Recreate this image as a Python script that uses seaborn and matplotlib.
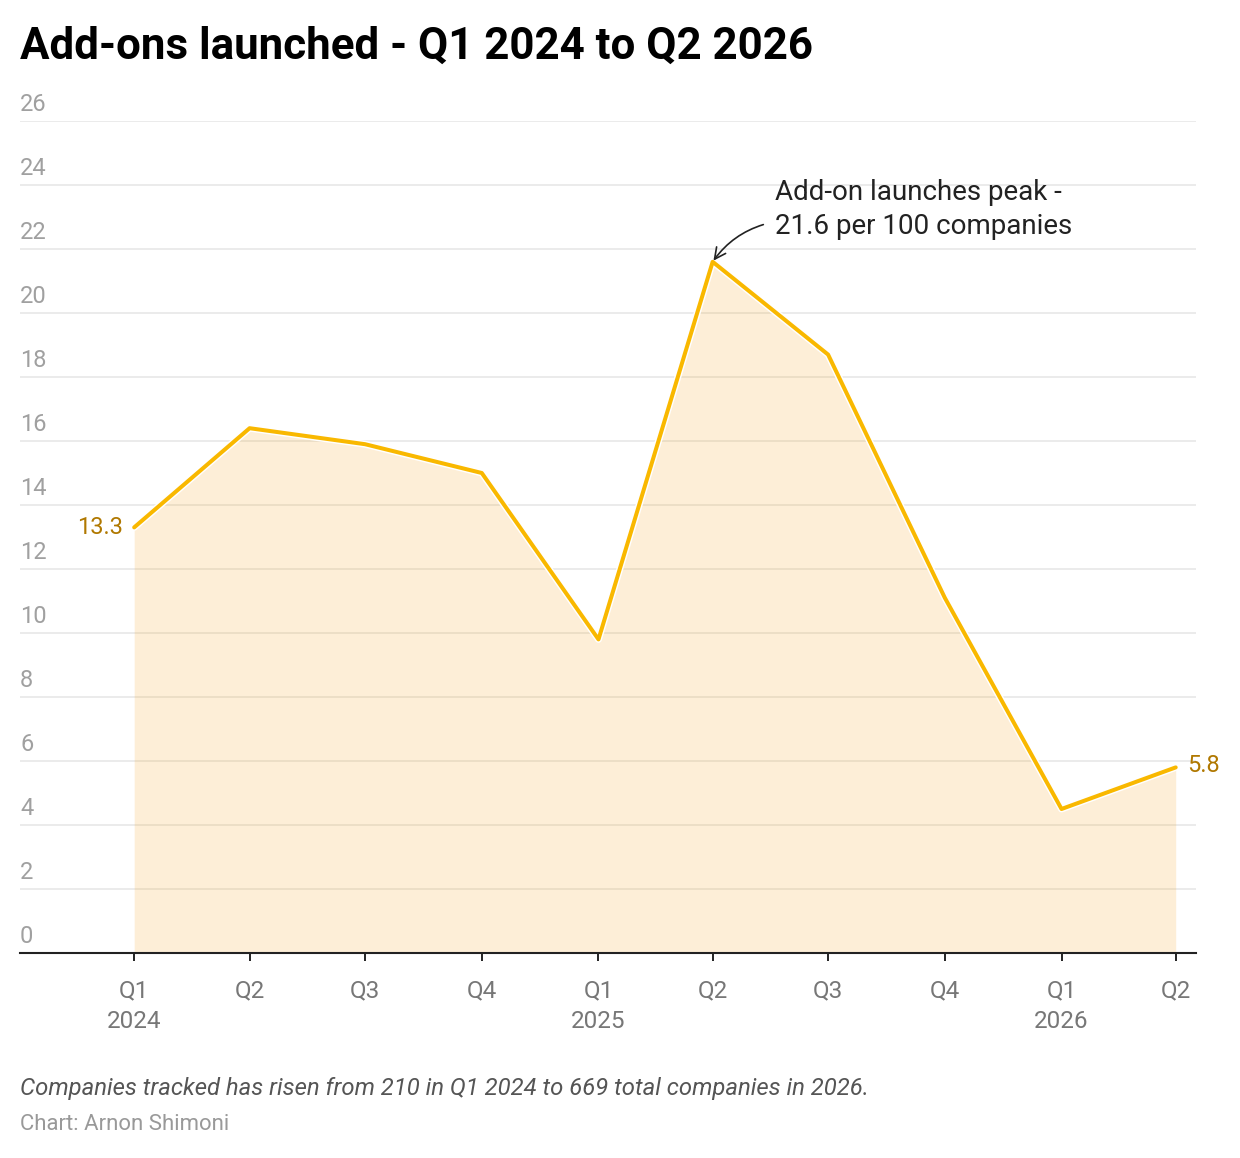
import pandas as pd
import seaborn as sns
import matplotlib.pyplot as plt
import matplotlib.transforms as mtransforms

# Data
quarters = ["2024-01-01", "2024-04-01", "2024-07-01", "2024-10-01",
            "2025-01-01", "2025-04-01", "2025-07-01", "2025-10-01",
            "2026-01-01", "2026-04-01"]
addons_per_100 = [13.3, 16.4, 15.9, 15.0, 9.8, 21.6, 18.7, 11.1, 4.5, 5.8]
tick_labels = ["Q1\n2024", "Q2", "Q3", "Q4", "Q1\n2025",
               "Q2", "Q3", "Q4", "Q1\n2026", "Q2"]
y_ticks = list(range(0, 27, 2))

title = "Add-ons launched - Q1 2024 to Q2 2026"
note = "Add-on launches peak -\n21.6 per 100 companies"
caption = "Companies tracked has risen from 210 in Q1 2024 to 669 total companies in 2026."
credit = "Chart: Arnon Shimoni"

df = pd.DataFrame({"quarter": pd.to_datetime(quarters), "value": addons_per_100})

sns.set_theme(style="white")
plt.rcParams["font.family"] = ["Roboto", "DejaVu Sans"]

LINE = "#F9B800"
FILL = "#F5A623"
LABEL = "#B07800"

fig = plt.figure(figsize=(12.4, 11.58), dpi=100)
ax = fig.add_axes([20 / 1240, 1 - 953 / 1158, 1176 / 1240, 832 / 1158])

# gridlines first, then area + line
for v in y_ticks[1:]:
    ax.axhline(v, color="#e6e6e6", lw=1.1, zorder=0)

ax.fill_between(df["quarter"], df["value"], color=FILL, alpha=0.18, lw=0, zorder=1)
sns.lineplot(data=df, x="quarter", y="value", ax=ax, color="white", lw=5, zorder=2)
sns.lineplot(data=df, x="quarter", y="value", ax=ax, color=LINE, lw=2.9, zorder=3)

ax.set_ylim(0, 26)
ax.set_xlim(df["quarter"].iloc[0] - pd.Timedelta(days=90),
            df["quarter"].iloc[-1] + pd.Timedelta(days=16))

# y labels sit above the gridlines, at the left edge
ax.set_yticks([])
trans = mtransforms.blended_transform_factory(ax.transAxes, ax.transData)
for v in y_ticks:
    ax.annotate(str(v), xy=(0, v), xycoords=trans, xytext=(0, 5),
                textcoords="offset pixels", ha="left", va="bottom",
                fontsize=17, color="#a0a0a0")

ax.set_xticks(df["quarter"])
ax.set_xticklabels(tick_labels, fontsize=17.5, color="#777777", linespacing=1.42)
ax.tick_params(axis="x", length=6, width=1.4, color="#222222", pad=13, bottom=True)
ax.set_xlabel("")
ax.set_ylabel("")

for s in ["top", "left", "right"]:
    ax.spines[s].set_visible(False)
ax.spines["bottom"].set_color("#222222")
ax.spines["bottom"].set_linewidth(1.5)

# end labels
first, last = df.iloc[0], df.iloc[-1]
ax.annotate(f"{first['value']}", xy=(first["quarter"], first["value"]), xytext=(-11, 0),
            textcoords="offset pixels", ha="right", va="center", fontsize=17, color=LABEL)
ax.annotate(f"{last['value']}", xy=(last["quarter"], last["value"]), xytext=(11, 2),
            textcoords="offset pixels", ha="left", va="center", fontsize=17, color=LABEL)

# peak annotation
peak = df.loc[df["value"].idxmax()]
ax.annotate(note, xy=(peak["quarter"], peak["value"]), xytext=(62, 83),
            textcoords="offset pixels", ha="left", va="top", fontsize=20,
            color="#222222", linespacing=1.35,
            arrowprops=dict(arrowstyle="->", color="#222222", lw=1.2,
                            connectionstyle="arc3,rad=0.2", relpos=(0, 0.3),
                            shrinkA=6, shrinkB=1))

fig.text(20 / 1240, 1 - 47 / 1158, title, fontsize=31.6, fontweight="bold",
         color="black", ha="left", va="center")
fig.text(20 / 1240, 1 - 1088 / 1158, caption, fontsize=17.2, style="italic",
         color="#555555", ha="left", va="center")
fig.text(20 / 1240, 1 - 1124 / 1158, credit, fontsize=15.9, color="#999999",
         ha="left", va="center")

fig.savefig("out.png", dpi=100)
